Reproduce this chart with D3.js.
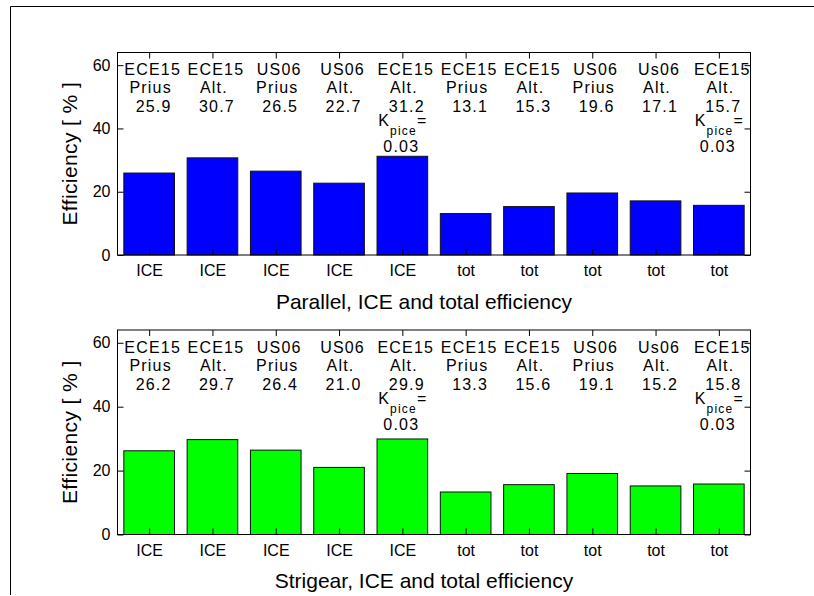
<!DOCTYPE html>
<html>
<head>
<meta charset="utf-8">
<script src="https://cdn.jsdelivr.net/npm/d3@7"></script>
<style>
  html, body { margin: 0; padding: 0; background: #fff; }
  svg { display: block; font-family: "Liberation Sans", Arial, sans-serif; }
</style>
</head>
<body>
<svg id="chart" width="814" height="596"></svg>
<script>
// ---------- data ----------
const cycleLabels   = ["ECE15","ECE15","US06","US06","ECE15","ECE15","ECE15","US06","Us06","ECE15"];
const vehicleLabels = ["Prius","Alt.","Prius","Alt.","Alt.","Prius","Alt.","Prius","Alt.","Alt."];
const kpiceLabels   = [null,null,null,null,"0.03",null,null,null,null,"0.03"];
const tickLabels    = ["ICE","ICE","ICE","ICE","ICE","tot","tot","tot","tot","tot"];
const parallelValues = [25.9, 30.7, 26.5, 22.7, 31.2, 13.1, 15.3, 19.6, 17.1, 15.7];
const strigearValues = [26.2, 29.7, 26.4, 21.0, 29.9, 13.3, 15.6, 19.1, 15.2, 15.8];
const yTickValues = [0, 20, 40, 60];
const yMax = 64;
const yLabel = "Efficiency [ % ]";
const panelTitles = ["Parallel, ICE and total efficiency", "Strigear, ICE and total efficiency"];

// ---------- drawing ----------
const svg = d3.select("#chart");

// figure frame (partial)
svg.append("line").attr("x1", 10.5).attr("x2", 814).attr("y1", 6.5).attr("y2", 6.5)
  .attr("stroke", "#000").attr("stroke-width", 1);
svg.append("line").attr("x1", 10.5).attr("x2", 10.5).attr("y1", 6.5).attr("y2", 595)
  .attr("stroke", "#000").attr("stroke-width", 1);

const left = 117.5, right = 750.5;
const idx = d3.range(cycleLabels.length);

function drawPanel(top, bottom, values, color, title) {
  const x = d3.scaleBand().domain(idx).range([left, right]).paddingInner(0.2).paddingOuter(0.1);
  const y = d3.scaleLinear().domain([0, yMax]).range([bottom, top]);
  const g = svg.append("g");

  // bars
  g.selectAll("rect.bar").data(values).join("rect")
    .attr("class", "bar")
    .attr("x", (d, i) => x(i))
    .attr("width", x.bandwidth())
    .attr("y", d => y(d))
    .attr("height", d => y(0) - y(d))
    .attr("fill", color)
    .attr("stroke", "#111")
    .attr("stroke-width", 1);

  const xc = i => x(i) + x.bandwidth() / 2;
  const xPos = d3.scalePoint().domain(idx).range([xc(0), xc(idx.length - 1)]);

  // left axis with labels
  const ay = g.append("g").attr("transform", `translate(${left},0)`)
    .call(d3.axisLeft(y).tickValues(yTickValues).tickSizeInner(-6).tickSizeOuter(0).tickPadding(7));
  ay.select(".domain").remove();
  ay.selectAll("text").attr("font-size", 16).attr("fill", "#000").attr("font-family", "Liberation Sans, Arial, sans-serif");
  ay.selectAll("line").attr("stroke", "#000");

  // right axis ticks
  const ar = g.append("g").attr("transform", `translate(${right},0)`)
    .call(d3.axisRight(y).tickValues(yTickValues).tickSizeInner(-6).tickSizeOuter(0).tickFormat(""));
  ar.select(".domain").remove();
  ar.selectAll("line").attr("stroke", "#000");

  // top axis ticks
  const at = g.append("g").attr("transform", `translate(0,${top})`)
    .call(d3.axisTop(xPos).tickSizeInner(-6).tickSizeOuter(0).tickFormat(""));
  at.select(".domain").remove();
  at.selectAll("line").attr("stroke", "#000");

  // bottom axis with category labels
  const ab = g.append("g").attr("transform", `translate(0,${bottom})`)
    .call(d3.axisBottom(xPos).tickSizeInner(-6).tickSizeOuter(0).tickPadding(10)
      .tickFormat(i => tickLabels[i]));
  ab.select(".domain").remove();
  ab.selectAll("text").attr("font-size", 16).attr("fill", "#000").attr("font-family", "Liberation Sans, Arial, sans-serif");
  ab.selectAll("line").attr("stroke", "#000");

  // box
  g.append("rect").attr("x", left).attr("y", top).attr("width", right - left).attr("height", bottom - top)
    .attr("fill", "none").attr("stroke", "#000").attr("stroke-width", 1);

  // annotation texts
  const ann = g.append("g").attr("font-size", 16).attr("fill", "#000")
    .attr("text-anchor", "middle").style("letter-spacing", "1.2px");
  const rows = [
    { off: 22.5, dx: 3.5, txt: i => cycleLabels[i] },
    { off: 40.8, dx: 1.5, txt: i => vehicleLabels[i] },
    { off: 59.6, dx: 4.5, txt: i => values[i].toFixed(1) }
  ];
  rows.forEach(r => {
    ann.selectAll(null).data(idx).join("text")
      .attr("x", i => xc(i) + r.dx)
      .attr("y", top + r.off)
      .text(r.txt);
  });
  const kIdx = idx.filter(i => kpiceLabels[i]);
  kIdx.forEach(i => {
    const t = ann.append("text").attr("x", xc(i) + 0.5).attr("y", top + 73.8);
    t.append("tspan").text("K");
    t.append("tspan").attr("font-size", 12).attr("dy", 9).text("pice");
    t.append("tspan").attr("dy", -9).text("=");
    ann.append("text").attr("x", xc(i) - 1).attr("y", top + 99.7).text(kpiceLabels[i]);
  });

  // y label
  g.append("text")
    .attr("transform", `translate(77,${(top + bottom) / 2}) rotate(-90)`)
    .attr("text-anchor", "middle").attr("font-size", 21).style("letter-spacing", "0.4px")
    .attr("fill", "#000").text(yLabel);

  // x label
  g.append("text")
    .attr("x", 424).attr("y", bottom + 53.5)
    .attr("text-anchor", "middle").attr("font-size", 21).attr("fill", "#000")
    .text(title);
}

drawPanel(52.5, 255, parallelValues, "#0000ff", panelTitles[0]);
drawPanel(330, 534.5, strigearValues, "#00ff00", panelTitles[1]);
</script>
</body>
</html>
